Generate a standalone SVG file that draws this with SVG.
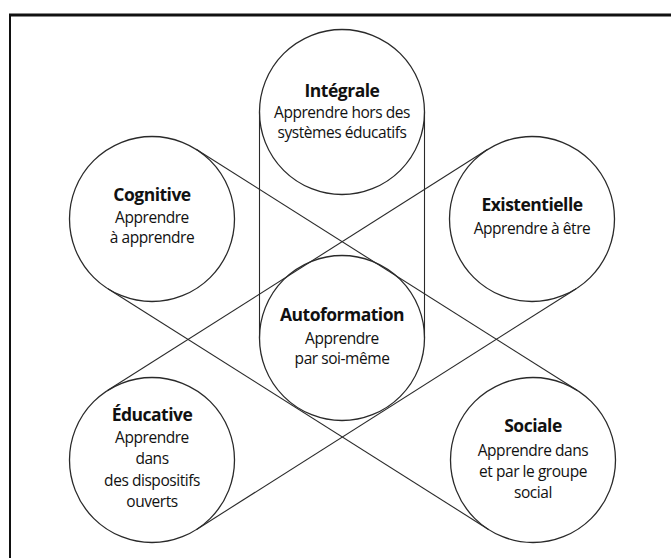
<svg xmlns="http://www.w3.org/2000/svg" width="671" height="558" viewBox="0 0 671 558">
<style>
.bg{fill:#fff}
.frame{stroke:#111;fill:none}
.c{fill:none;stroke:#2a2a2a;stroke-width:1.3}
.ln{stroke:#2a2a2a;stroke-width:1.1;fill:none}
text{font-family:"Open Sans","Noto Sans","DejaVu Sans",sans-serif;fill:#111;text-anchor:middle}
.t{font-weight:bold;font-size:17.5px;letter-spacing:-0.5px}
.s{font-size:15.5px;font-weight:500;letter-spacing:-0.45px}
</style>
<rect class="bg" x="0" y="0" width="671" height="558"/>
<g id="frame">
<line class="frame" x1="9" y1="15" x2="671" y2="15" stroke-width="3"/>
<line class="frame" x1="10" y1="14" x2="10" y2="558" stroke-width="2"/>
</g>
<g id="connectors">
<line class="ln" x1="259.5" y1="112" x2="259.5" y2="338"/>
<line class="ln" x1="424.5" y1="112" x2="424.5" y2="338"/>
<line class="ln" x1="196.1" y1="149.3" x2="577.1" y2="390.3"/>
<line class="ln" x1="107.9" y1="288.7" x2="488.9" y2="529.7"/>
<line class="ln" x1="487.8" y1="149.3" x2="107.8" y2="390.3"/>
<line class="ln" x1="576.2" y1="288.7" x2="196.2" y2="529.7"/>
</g>
<g id="integrale">
<circle class="c" cx="342" cy="112" r="82.5"/>
<text class="t" x="342" y="97">Intégrale</text>
<text class="s" x="342" y="118">Apprendre hors des</text>
<text class="s" x="342" y="138">systèmes éducatifs</text>
</g>
<g id="cognitive">
<circle class="c" cx="152" cy="219" r="82.5"/>
<text class="t" x="152" y="201">Cognitive</text>
<text class="s" x="152" y="223">Apprendre</text>
<text class="s" x="152" y="243">à apprendre</text>
</g>
<g id="existentielle">
<circle class="c" cx="532" cy="219" r="82.5"/>
<text class="t" x="532" y="211">Existentielle</text>
<text class="s" x="532" y="234">Apprendre à être</text>
</g>
<g id="autoformation">
<circle class="c" cx="342" cy="338" r="82.5"/>
<text class="t" x="342" y="321">Autoformation</text>
<text class="s" x="342" y="344">Apprendre</text>
<text class="s" x="342" y="364">par soi-même</text>
</g>
<g id="educative">
<circle class="c" cx="152" cy="460" r="82.5"/>
<text class="t" x="152" y="421">Éducative</text>
<text class="s" x="152" y="443">Apprendre</text>
<text class="s" x="152" y="464">dans</text>
<text class="s" x="152" y="486">des dispositifs</text>
<text class="s" x="152" y="507">ouverts</text>
</g>
<g id="sociale">
<circle class="c" cx="533" cy="460" r="82.5"/>
<text class="t" x="533" y="432">Sociale</text>
<text class="s" x="533" y="456">Apprendre dans</text>
<text class="s" x="533" y="477">et par le groupe</text>
<text class="s" x="533" y="498">social</text>
</g>
</svg>
